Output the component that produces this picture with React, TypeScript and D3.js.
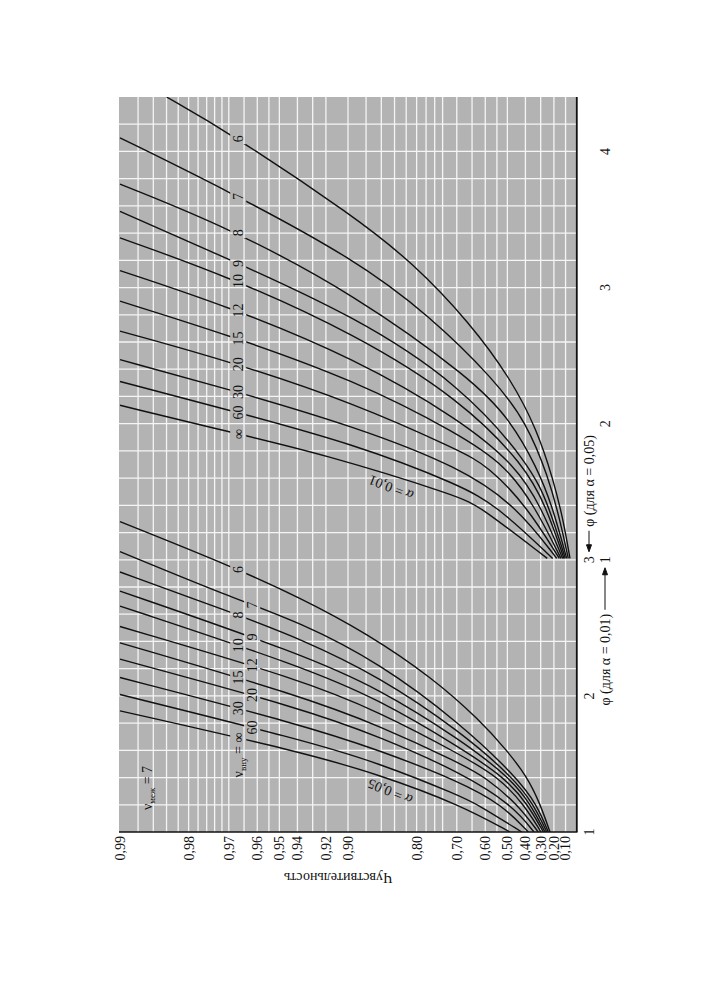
import * as React from "react";
import * as d3 from "d3";

// Чувствительность (power) axis
const powerTicks = [0.99, 0.98, 0.97, 0.96, 0.95, 0.94, 0.92, 0.9, 0.8, 0.7, 0.6, 0.5, 0.4, 0.3, 0.2, 0.1];
const powerGrid = [
  0.988, 0.986, 0.984, 0.982, 0.98, 0.978, 0.976, 0.974, 0.972, 0.97, 0.965, 0.96, 0.955, 0.95,
  0.94, 0.93, 0.92, 0.9, 0.88, 0.86, 0.84, 0.82, 0.8, 0.78, 0.76, 0.74, 0.7, 0.65, 0.6, 0.55,
  0.5, 0.4, 0.3, 0.2, 0.1,
];
// φ axis (scale for α = 0,05; the α = 0,01 scale is shifted by 2)
const phiGrid = [1.2, 1.4, 1.6, 1.8, 2, 2.2, 2.4, 2.6, 2.8, 3, 3.2, 3.4, 3.6, 3.8, 4, 4.2, 4.4, 4.6, 4.8, 5, 5.2, 5.4, 5.6, 5.8, 6, 6.2];
const phiTicks05 = [1, 2, 3];
const phiTicks01 = [1, 2, 3, 4];

const nuLabels = ["6", "7", "8", "9", "10", "12", "15", "20", "30", "60", "∞"];

// [φ, power] for α = 0,05, ν_вну = 6 ... ∞
const curves05: [number, number][][] = [
  [[3.28, 0.99], [2.96, 0.97], [2.72, 0.938], [2.46, 0.879], [2.13, 0.764], [1.82, 0.621], [1.6, 0.503], [1.41, 0.392], [1.21, 0.305], [1.0, 0.231]],
  [[3.06, 0.99], [2.73, 0.97], [2.54, 0.938], [2.24, 0.862], [1.8, 0.69], [1.4, 0.449], [1.2, 0.326], [1.0, 0.244]],
  [[2.91, 0.99], [2.62, 0.97], [2.42, 0.938], [2.14, 0.862], [1.74, 0.69], [1.4, 0.47], [1.2, 0.346], [1.0, 0.256]],
  [[2.77, 0.99], [2.31, 0.938], [2.05, 0.862], [1.68, 0.69], [1.4, 0.487], [1.2, 0.365], [1.0, 0.269]],
  [[2.66, 0.99], [2.22, 0.938], [1.97, 0.862], [1.62, 0.69], [1.4, 0.512], [1.2, 0.384], [1.0, 0.281]],
  [[2.51, 0.99], [2.12, 0.938], [1.88, 0.862], [1.57, 0.69], [1.4, 0.54], [1.2, 0.408], [1.0, 0.298]],
  [[2.39, 0.99], [2.0, 0.938], [1.78, 0.862], [1.505, 0.69], [1.4, 0.597], [1.2, 0.443], [1.0, 0.317]],
  [[2.27, 0.99], [1.91, 0.938], [1.7, 0.862], [1.44, 0.69], [1.2, 0.476], [1.0, 0.346]],
  [[2.135, 0.99], [1.79, 0.938], [1.6, 0.862], [1.37, 0.69], [1.2, 0.526], [1.0, 0.382]],
  [[2.01, 0.99], [1.68, 0.938], [1.505, 0.862], [1.265, 0.69], [1.2, 0.628], [1.0, 0.422]],
  [[1.89, 0.99], [1.59, 0.938], [1.42, 0.862], [1.2, 0.69], [1.0, 0.487]],
];

// [φ, power] for α = 0,01
const curves01: [number, number][][] = [
  [[4.4, 0.984], [4.14, 0.97], [3.52, 0.893], [3.18, 0.807], [2.74, 0.657], [2.32, 0.478], [1.96, 0.328], [1.59, 0.205], [1.29, 0.12], [1.01, 0.059]],
  [[4.1, 0.99], [3.72, 0.971], [3.21, 0.893], [2.79, 0.771], [2.32, 0.559], [2.005, 0.392], [1.61, 0.244], [1.29, 0.149], [1.01, 0.075]],
  [[3.76, 0.99], [3.44, 0.97], [2.95, 0.893], [2.32, 0.646], [2.03, 0.487], [1.68, 0.326], [1.39, 0.211], [1.01, 0.09]],
  [[3.56, 0.99], [3.22, 0.971], [2.79, 0.893], [2.29, 0.69], [1.69, 0.365], [1.39, 0.239], [1.01, 0.102]],
  [[3.365, 0.99], [3.08, 0.97], [2.66, 0.893], [2.18, 0.69], [1.69, 0.402], [1.39, 0.261], [1.01, 0.114]],
  [[3.125, 0.99], [2.86, 0.97], [2.48, 0.893], [2.03, 0.69], [1.69, 0.454], [1.39, 0.298], [1.01, 0.126]],
  [[2.9, 0.99], [2.65, 0.97], [2.32, 0.893], [1.92, 0.69], [1.69, 0.507], [1.39, 0.339], [1.01, 0.141]],
  [[2.68, 0.99], [2.46, 0.97], [2.15, 0.893], [1.8, 0.69], [1.69, 0.589], [1.39, 0.39], [1.01, 0.155]],
  [[2.47, 0.99], [2.26, 0.971], [1.98, 0.893], [1.68, 0.69], [1.39, 0.449], [1.01, 0.177]],
  [[2.31, 0.99], [2.1, 0.97], [1.85, 0.893], [1.55, 0.69], [1.39, 0.545], [1.01, 0.21]],
  [[2.135, 0.99], [1.94, 0.97], [1.78, 0.923], [1.465, 0.69], [1.39, 0.621], [1.01, 0.252]],
];

// power at which each curve label sits
const labelP05 = [0.967, 0.962, 0.967, 0.962, 0.967, 0.962, 0.967, 0.962, 0.967, 0.962, 0.967];
const labelP01 = [0.967, 0.967, 0.967, 0.967, 0.967, 0.967, 0.967, 0.967, 0.967, 0.967, 0.967];

const W = 705;
const H = 1000;
const FONT = "'Liberation Serif', 'Times New Roman', serif";

export default function App() {
  const ref = React.useRef<SVGSVGElement>(null);

  React.useEffect(() => {
    if (!ref.current) return;
    const svg = d3.select(ref.current);
    svg.selectAll("*").remove();

    // horizontal: log of (1 - power), vertical: φ
    const x = d3.scaleLog().domain([0.01, 1]).range([120, 576]);
    const px = (p: number) => x(1 - p);
    const y = d3.scaleLinear().domain([1, 6.4]).range([832, 97]);

    const left = x(0.0099),
      right = x(1),
      top = y(6.4),
      bottom = y(1);

    const defs = svg.append("defs");
    defs
      .append("clipPath")
      .attr("id", "plotClip")
      .append("rect")
      .attr("x", left)
      .attr("y", top)
      .attr("width", right - left)
      .attr("height", bottom - top);

    svg
      .append("rect")
      .attr("x", left)
      .attr("y", top)
      .attr("width", right - left)
      .attr("height", bottom - top)
      .attr("fill", "#b3b3b3");

    const grid = svg.append("g").attr("stroke", "#f5f5f5").attr("stroke-width", 1.3);
    grid
      .selectAll("line.v")
      .data(powerGrid)
      .enter()
      .append("line")
      .attr("x1", d => px(d))
      .attr("x2", d => px(d))
      .attr("y1", top)
      .attr("y2", bottom);
    grid
      .selectAll("line.h")
      .data(phiGrid)
      .enter()
      .append("line")
      .attr("x1", left)
      .attr("x2", right)
      .attr("y1", d => y(d))
      .attr("y2", d => y(d));

    // curve groups: offset 0 for α=0,05, 2 for α=0,01
    const groups = [
      { curves: curves05, labelP: labelP05, offset: 0 },
      { curves: curves01, labelP: labelP01, offset: 2 },
    ];

    const mask = defs
      .append("mask")
      .attr("id", "gaps")
      .attr("maskUnits", "userSpaceOnUse")
      .attr("x", 0)
      .attr("y", 0)
      .attr("width", W)
      .attr("height", H);
    mask.append("rect").attr("width", W).attr("height", H).attr("fill", "white");

    const yOnCurve = (pts: [number, number][], xq: number) => {
      for (let i = 0; i < pts.length - 1; i++) {
        const [x0, y0] = pts[i];
        const [x1, y1] = pts[i + 1];
        if (xq >= x0 && xq <= x1) return y0 + ((xq - x0) / (x1 - x0)) * (y1 - y0);
      }
      return pts[0][1];
    };

    const labels: { x: number; y: number; text: string; infLower: boolean }[] = [];
    groups.forEach((g, gi) => {
      g.curves.forEach((c, i) => {
        const pts = c.map(d => [px(d[1]), y(d[0] + g.offset)] as [number, number]);
        const lx = px(g.labelP[i]);
        const ly = yOnCurve(pts, lx);
        labels.push({ x: lx, y: ly, text: nuLabels[i], infLower: gi === 0 && nuLabels[i] === "∞" });
        const len = nuLabels[i] === "∞" ? 10 : nuLabels[i].length * 7;
        mask
          .append("rect")
          .attr("x", lx - 8)
          .attr("y", ly - len / 2 - 2)
          .attr("width", 16)
          .attr("height", len + 4)
          .attr("fill", "black");
      });
    });

    const line = (offset: number) =>
      d3
        .line<[number, number]>()
        .x(d => px(d[1]))
        .y(d => y(d[0] + offset))
        .curve(d3.curveBasis);

    const curvesG = svg
      .append("g")
      .attr("clip-path", "url(#plotClip)")
      .attr("mask", "url(#gaps)")
      .attr("fill", "none")
      .attr("stroke", "#111")
      .attr("stroke-width", 1.4);
    groups.forEach(g => {
      curvesG
        .selectAll(null)
        .data(g.curves)
        .enter()
        .append("path")
        .attr("d", d => line(g.offset)(d));
    });

    // axes frame
    svg.append("line").attr("x1", left).attr("x2", right + 1.5).attr("y1", bottom).attr("y2", bottom)
      .attr("stroke", "#111").attr("stroke-width", 1.6);
    svg.append("line").attr("x1", right + 0.8).attr("x2", right + 0.8).attr("y1", top).attr("y2", bottom)
      .attr("stroke", "#111").attr("stroke-width", 1.8);

    const txt = svg.append("g").attr("font-family", FONT).attr("fill", "#111");

    // curve labels
    labels.forEach(l => {
      const t = txt
        .append("text")
        .attr("transform", `translate(${l.x},${l.infLower ? l.y - 5 : l.y}) rotate(-90)`)
        .attr("text-anchor", l.infLower ? "end" : "middle")
        .attr("dy", "0.35em")
        .attr("font-size", 14);
      if (l.infLower) {
        t.append("tspan").text("ν");
        t.append("tspan").attr("font-size", 9).attr("dy", 3).text("вну");
        t.append("tspan").attr("dy", -3).text(" = ∞");
      } else {
        t.text(l.text);
      }
    });

    // power tick labels
    const fmt = (p: number) => d3.format(".2f")(p).replace(".", ",");
    txt
      .selectAll("text.pt")
      .data(powerTicks)
      .enter()
      .append("text")
      .attr("transform", d => `translate(${px(d)},${bottom + 4}) rotate(-90)`)
      .attr("text-anchor", "end")
      .attr("dy", "0.35em")
      .attr("font-size", 14)
      .text(d => fmt(d));

    txt
      .append("text")
      .attr("transform", `translate(338,878) rotate(180)`)
      .attr("text-anchor", "middle")
      .attr("dy", "0.35em")
      .attr("font-size", 14)
      .text("Чувствительность");

    // φ tick labels (two scales)
    txt
      .selectAll("text.f5")
      .data(phiTicks05)
      .enter()
      .append("text")
      .attr("transform", d => `translate(589,${y(d)}) rotate(-90)`)
      .attr("text-anchor", "middle")
      .attr("dy", "0.35em")
      .attr("font-size", 14)
      .text(d => String(d));
    txt
      .selectAll("text.f1")
      .data(phiTicks01)
      .enter()
      .append("text")
      .attr("transform", d => `translate(605,${y(d + 2)}) rotate(-90)`)
      .attr("text-anchor", "middle")
      .attr("dy", "0.35em")
      .attr("font-size", 14)
      .text(d => String(d));

    const phiTitle = (xx: number, yy: number, anchor: string, a: string) => {
      txt
        .append("text")
        .attr("transform", `translate(${xx},${yy}) rotate(-90)`)
        .attr("text-anchor", anchor)
        .attr("dy", "0.35em")
        .attr("font-size", 14)
        .text("φ (для α = " + a + ")");
    };
    phiTitle(605, y(3) + 54, "end", "0,01");
    phiTitle(589, y(3) - 33, "start", "0,05");

    const arrows = svg.append("g").attr("stroke", "#111").attr("stroke-width", 1).attr("fill", "#111");
    // α = 0,01 scale: arrow pointing to "1"
    arrows.append("line").attr("x1", 605).attr("x2", 605).attr("y1", y(3) + 50).attr("y2", y(3) + 14);
    arrows.append("path").attr("d", `M605,${y(3) + 8} l-2.5,7 l5,0 z`);
    // α = 0,05 scale: arrow pointing to "3"
    arrows.append("line").attr("x1", 589).attr("x2", 589).attr("y1", y(3) - 14).attr("y2", y(3) - 29);
    arrows.append("path").attr("d", `M589,${y(3) - 8} l-2.5,-7 l5,0 z`);

    // ν_меж = 7
    const nm = txt
      .append("text")
      .attr("transform", `translate(147,788) rotate(-90)`)
      .attr("text-anchor", "middle")
      .attr("dy", "0.35em")
      .attr("font-size", 14);
    nm.append("tspan").text("ν");
    nm.append("tspan").attr("font-size", 9).attr("dy", 3).text("меж");
    nm.append("tspan").attr("dy", -3).text(" = 7");

    // α labels along the curve bundles
    const alphaLabel = (xx: number, yy: number, ang: number, a: string) => {
      const t = txt
        .append("text")
        .attr("transform", `translate(${xx},${yy}) rotate(${ang})`)
        .attr("text-anchor", "middle")
        .attr("dy", "0.35em")
        .attr("font-size", 14);
      t.append("tspan").attr("font-style", "italic").text("α");
      t.append("tspan").text(" = " + a);
    };
    alphaLabel(390, 792, 202, "0,05");
    alphaLabel(391, 488, 201, "0,01");
  }, []);

  return (
    <svg
      ref={ref}
      width={W}
      height={H}
      style={{ position: "absolute", left: 0, top: 0, background: "#fff" }}
    />
  );
}
